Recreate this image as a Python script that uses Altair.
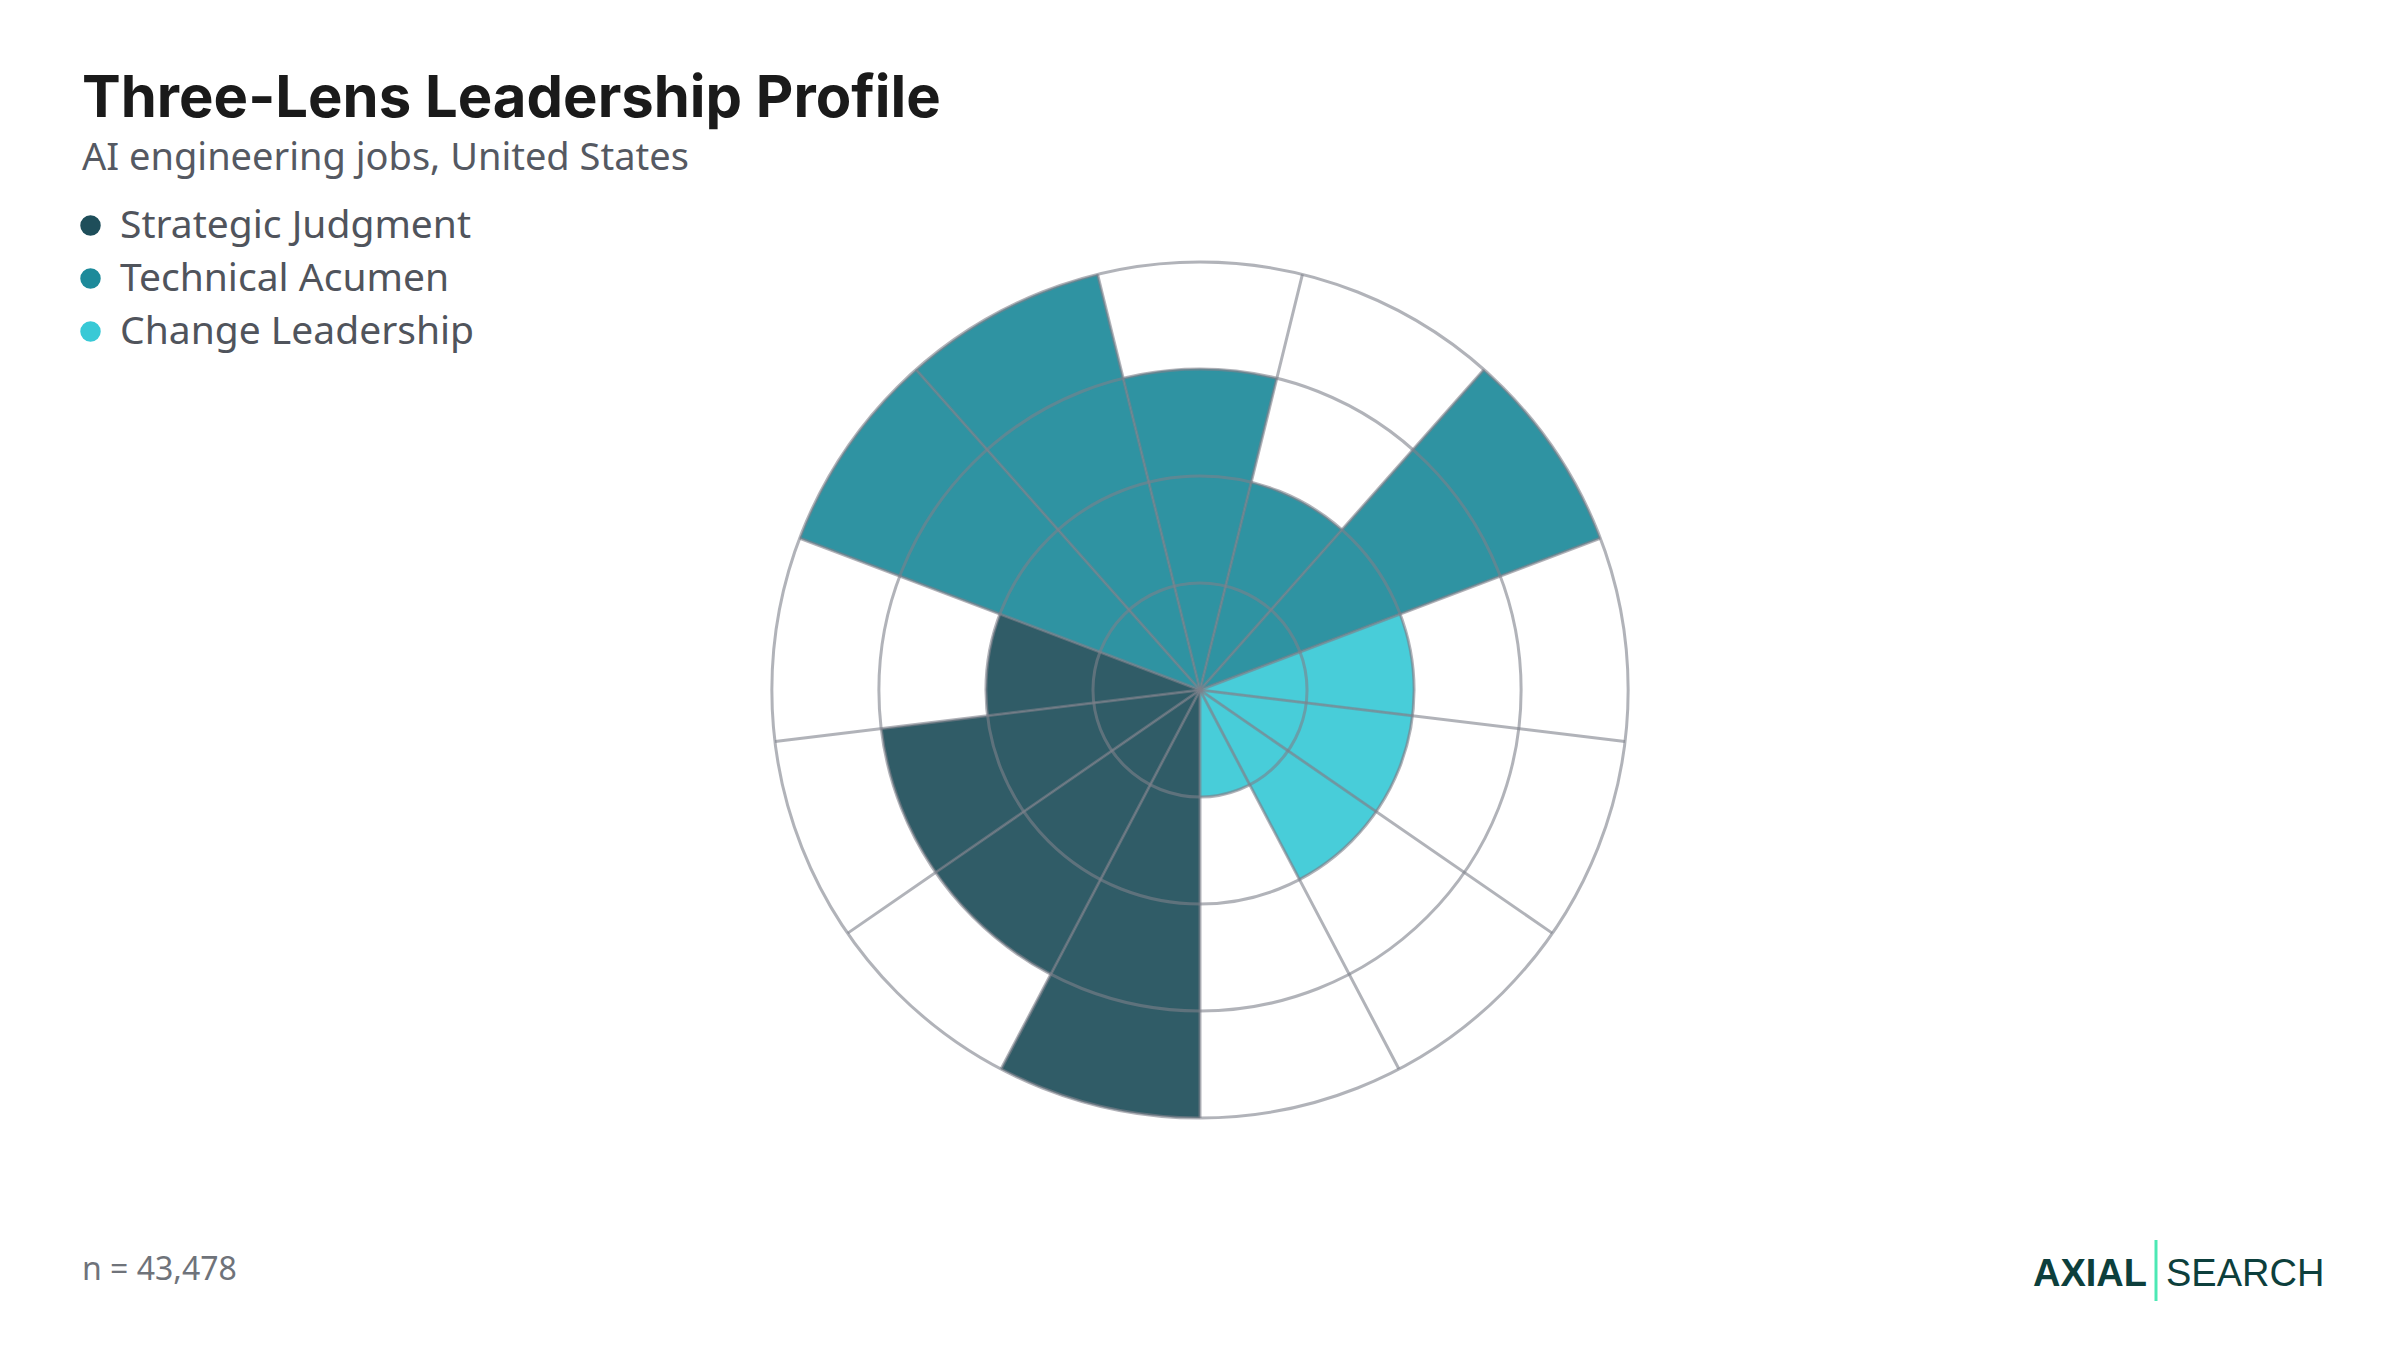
import math
import altair as alt
import pandas as pd

# ---------------- data ----------------
lens_names = ["Strategic Judgment", "Technical Acumen", "Change Leadership"]
lens_colors = ["#1e4e5a", "#1d8a9a", "#38c9d6"]
item_lens = (["Strategic Judgment"] * 4
             + ["Technical Acumen"] * 5
             + ["Change Leadership"] * 4)
item_scores = [4, 3, 3, 2, 4, 4, 3, 2, 4, 2, 2, 2, 1]
ring_levels = [1, 2, 3, 4]

title_text = "Three-Lens Leadership Profile"
subtitle_text = "AI engineering jobs, United States"
footer_text = "n = 43,478"
logo_left = "AXIAL"
logo_right = "SEARCH"

# ---------------- layout ----------------
W, H = 2384, 1334
CX, CY = 1192, 682
R = 428
GRID = "#7d818b"

items = pd.DataFrame({"lens": item_lens, "score": item_scores})
rings = pd.DataFrame({"level": ring_levels})

n_items = len(item_scores)
theta_scale = alt.Scale(domain=[0, n_items], range=[math.pi, 3 * math.pi])
r_scale = alt.Scale(type="linear", domain=[0, max(ring_levels)], range=[0, R], zero=True)

base_items = (alt.Chart(items)
              .transform_window(idx="row_number()")
              .transform_calculate(start="datum.idx - 1", end="datum.idx"))

arcs = base_items.mark_arc(fillOpacity=0.92, stroke=GRID, strokeWidth=1, strokeOpacity=0.4).encode(
    theta=alt.Theta("start:Q", stack=None, scale=theta_scale),
    theta2=alt.Theta2("end:Q"),
    radius=alt.Radius("score:Q", stack=None, scale=r_scale),
    color=alt.Color(
        "lens:N",
        scale=alt.Scale(domain=lens_names, range=lens_colors),
        legend=alt.Legend(
            orient="none", legendX=63, legendY=198, title=None,
            symbolType="circle", symbolSize=420, symbolStrokeWidth=0,
            symbolOpacity=1, labelFont="Noto Sans", labelFontSize=39,
            labelColor="#50545c", rowPadding=13, labelOffset=10,
            labelLimit=1000,
        ),
    ),
    x=alt.value(CX),
    y=alt.value(CY),
)

ring_layer = alt.Chart(rings).mark_arc(
    theta=0, theta2=2 * math.pi, fillOpacity=0, stroke=GRID, strokeOpacity=0.6, strokeWidth=3
).encode(
    radius=alt.Radius("level:Q", stack=None, scale=r_scale),
    x=alt.value(CX),
    y=alt.value(CY),
)

spokes = base_items.mark_arc(
    fillOpacity=0, stroke=GRID, strokeOpacity=0.6, strokeWidth=3
).encode(
    theta=alt.Theta("start:Q", stack=None, scale=theta_scale),
    theta2=alt.Theta2("start:Q"),
    radius=alt.Radius(datum=max(ring_levels), stack=None, scale=r_scale),
    x=alt.value(CX),
    y=alt.value(CY),
)


def text_layer(txt, x, y, size, color, font, weight="normal"):
    return alt.Chart(pd.DataFrame({"t": [txt]})).mark_text(
        align="left", baseline="alphabetic", fontSize=size, font=font,
        fontWeight=weight, color=color,
    ).encode(text="t:N", x=alt.value(x), y=alt.value(y))


title = text_layer(title_text, 74, 109, 58, "#1a1a1a", "Inter", "bold")
subtitle = text_layer(subtitle_text, 74, 162, 38, "#555962", "Noto Sans")
footer = text_layer(footer_text, 74, 1272, 32, "#6f737a", "Noto Sans")
logo_a = text_layer(logo_left, 2025, 1278, 38, "#0d3f3c", "Liberation Sans", "bold")
logo_b = text_layer(logo_right, 2158, 1278, 38, "#0d3f3c", "Liberation Sans")
logo_bar = alt.Chart(pd.DataFrame({"k": [0]})).mark_rule(color="#4de8b4", strokeWidth=3).encode(
    x=alt.value(2148), y=alt.value(1232), y2=alt.value(1293)
)

chart = alt.layer(
    arcs, ring_layer, spokes, title, subtitle, footer, logo_a, logo_bar, logo_b
).properties(
    width=W, height=H, autosize="none", padding=0
).configure_view(strokeWidth=0)

chart.save("out.html", embed_options={"renderer": "svg", "actions": False})
